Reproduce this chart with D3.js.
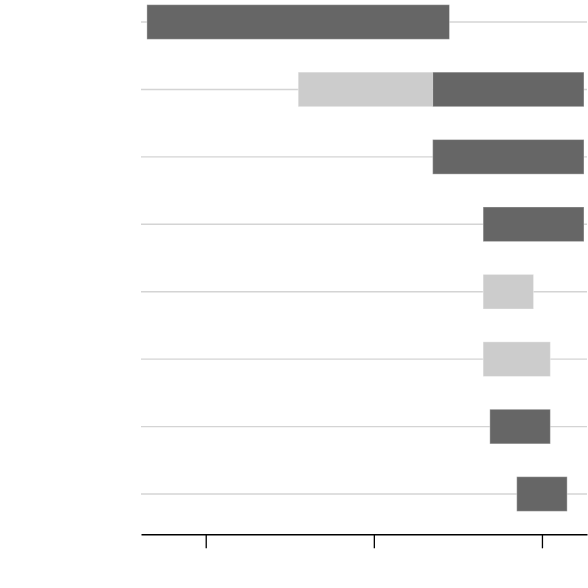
<!DOCTYPE html>
<html>
<head>
<meta charset="utf-8">
<script src="https://cdn.jsdelivr.net/npm/d3@7"></script>
<style>
  html, body { margin: 0; padding: 0; background: #fff; }
  svg { display: block; }
</style>
</head>
<body>
<svg id="chart" width="588" height="588"></svg>
<script>
// ---- data ----
const categories = ["R1", "R2", "R3", "R4", "R5", "R6", "R7", "R8"];
const lightStart = [null, 5.5, null, null, 16.5, 16.5, null, null];
const lightEnd   = [null, 13.5, null, null, 19.5, 20.5, null, null];
const darkStart  = [-3.5, 13.5, 13.5, 16.5, null, null, 16.9, 18.5];
const darkEnd    = [14.5, 22.5, 22.5, 22.5, null, null, 20.5, 21.5];
const tickValues = [0, 10, 20];
const tickLabels = ["", "", ""];

// ---- layout ----
const svg = d3.select("#chart");
const xDomain = [-3.85, 22.68];
const x = d3.scaleLinear().domain(xDomain).range([141, 587]);
const step = 67.43;
const y = d3.scaleBand()
  .domain(categories)
  .range([22 - step / 2, 22 - step / 2 + step * categories.length])
  .paddingInner(0.487)
  .paddingOuter(0.487 / 2);

// gridlines
svg.append("g").selectAll("line")
  .data(categories)
  .join("line")
  .attr("x1", x.range()[0])
  .attr("x2", x.range()[1])
  .attr("y1", d => y(d) + y.bandwidth() / 2)
  .attr("y2", d => y(d) + y.bandwidth() / 2)
  .attr("stroke", "#d4d4d4")
  .attr("stroke-width", 1.4);

function segs(starts, ends) {
  return categories.map((c, i) => ({ c, s: starts[i], e: ends[i] }))
    .filter(d => d.s != null && d.e != null);
}

const bars = svg.append("g");
bars.selectAll("rect.light")
  .data(segs(lightStart, lightEnd))
  .join("rect")
  .attr("class", "light")
  .attr("x", d => x(d.s))
  .attr("width", d => x(d.e) - x(d.s))
  .attr("y", d => y(d.c))
  .attr("height", y.bandwidth())
  .attr("fill", "#cccccc")
  .attr("stroke", "#fff")
  .attr("stroke-opacity", 0.35);

bars.selectAll("rect.dark")
  .data(segs(darkStart, darkEnd))
  .join("rect")
  .attr("class", "dark")
  .attr("x", d => x(d.s))
  .attr("width", d => x(d.e) - x(d.s))
  .attr("y", d => y(d.c))
  .attr("height", y.bandwidth())
  .attr("fill", "#666666")
  .attr("stroke", "#fff")
  .attr("stroke-opacity", 0.35);

// axis
const axis = d3.axisBottom(x)
  .tickValues(tickValues)
  .tickFormat((d, i) => tickLabels[i])
  .tickSizeInner(14)
  .tickSizeOuter(0);

const gx = svg.append("g")
  .attr("transform", "translate(0,534.3)")
  .call(axis);
gx.select(".domain").attr("stroke", "#000").attr("stroke-width", 1.5);
gx.selectAll(".tick line").attr("stroke", "#000").attr("stroke-width", 1.3);
</script>
</body>
</html>
